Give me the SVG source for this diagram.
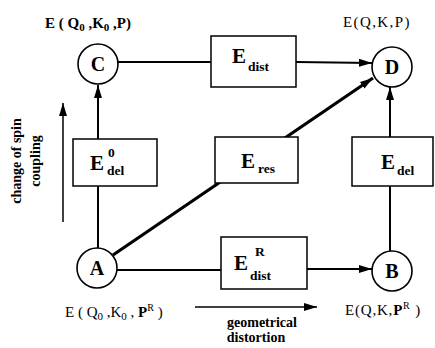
<svg xmlns="http://www.w3.org/2000/svg" width="435" height="348" viewBox="0 0 435 348">
<style>
.ln{stroke:#000;stroke-width:2;fill:none}
.thick{stroke:#000;stroke-width:3.2;fill:none}
.box{fill:#fff;stroke:#000;stroke-width:1.5}
.node{fill:#fff;stroke:#000;stroke-width:1.6}
.nl{font-family:"Liberation Serif","Times New Roman",serif;font-weight:bold;font-size:20px;text-anchor:middle}
.E{font-family:"Liberation Serif","Times New Roman",serif;font-weight:bold;font-size:21px}
.sub{font-family:"Liberation Serif","Times New Roman",serif;font-weight:bold;font-size:13.5px}
.st{font-family:"Liberation Serif","Times New Roman",serif;font-size:15px}
.ax{font-family:"Liberation Serif","Times New Roman",serif;font-weight:bold;font-size:14px;text-anchor:middle}
</style>
<defs>
<marker id="ah" markerUnits="userSpaceOnUse" markerWidth="14" markerHeight="10" refX="13" refY="5" orient="auto">
<path d="M0,1 L13,5 L0,9 Z" fill="#000"/>
</marker>
</defs>
<g id="connectors">
<line class="ln" x1="118" y1="62" x2="211" y2="62"/>
<line class="ln" x1="296" y1="62" x2="372" y2="63" marker-end="url(#ah)"/>
<line class="ln" x1="117" y1="270" x2="221" y2="270"/>
<line class="ln" x1="307" y1="269" x2="372" y2="269" marker-end="url(#ah)"/>
<line class="ln" x1="98" y1="248" x2="98" y2="186"/>
<line class="ln" x1="98" y1="139" x2="98" y2="85" marker-end="url(#ah)"/>
<line class="ln" x1="390" y1="251" x2="390" y2="186"/>
<line class="ln" x1="390" y1="137" x2="390" y2="87" marker-end="url(#ah)"/>
<line class="thick" x1="113" y1="255" x2="373" y2="78" marker-end="url(#ah)"/>
<line stroke="#000" stroke-width="1.5" x1="63" y1="222" x2="63" y2="103" marker-end="url(#ah)"/>
<line stroke="#000" stroke-width="1.5" x1="195" y1="307" x2="317" y2="307" marker-end="url(#ah)"/>
</g>
<g id="box-Edist">
<rect class="box" x="211" y="36" width="85" height="51"/>
<text x="232" y="63" class="E">E</text><text x="248" y="71" class="sub">dist</text>
</g>
<g id="box-ERdist">
<rect class="box" x="221" y="237" width="86" height="52"/>
<text x="234" y="270" class="E">E</text><text x="255" y="256" class="sub">R</text><text x="250" y="280" class="sub">dist</text>
</g>
<g id="box-E0del">
<rect class="box" x="73" y="139" width="84" height="47"/>
<text x="90" y="170" class="E">E</text><text x="108" y="157" class="sub">0</text><text x="107" y="175" class="sub">del</text>
</g>
<g id="box-Eres">
<rect class="box" x="215" y="137" width="83" height="46"/>
<text x="241" y="168" class="E">E</text><text x="258" y="173" class="sub">res</text>
</g>
<g id="box-Edel">
<rect class="box" x="352" y="137" width="81" height="49"/>
<text x="381" y="169" class="E">E</text><text x="397" y="175" class="sub">del</text>
</g>
<g id="node-C">
<circle class="node" cx="98" cy="64" r="20"/>
<text x="98" y="71" class="nl">C</text>
<text x="45" y="28" class="st" font-weight="bold">E ( Q<tspan font-size="11" dy="3">0</tspan><tspan dy="-3"> ,K</tspan><tspan font-size="11" dy="3">0</tspan><tspan dy="-3"> ,P)</tspan></text>
</g>
<g id="node-D">
<circle class="node" cx="392" cy="67" r="20"/>
<text x="392" y="74" class="nl">D</text>
<text x="343" y="27" class="st" letter-spacing="1.4">E(Q,K,P)</text>
</g>
<g id="node-A">
<circle class="node" cx="97" cy="268" r="20"/>
<text x="97" y="275" class="nl">A</text>
<text x="65" y="317" class="st">E ( Q<tspan font-size="11" dy="3">0</tspan><tspan dy="-3"> ,K</tspan><tspan font-size="11" dy="3">0</tspan><tspan dy="-3"> , </tspan><tspan font-weight="bold">P</tspan><tspan font-size="10" dy="-6">R</tspan><tspan dy="6"> )</tspan></text>
</g>
<g id="node-B">
<circle class="node" cx="392" cy="271" r="20"/>
<text x="392" y="278" class="nl">B</text>
<text x="345" y="315" class="st" letter-spacing="0.8">E(Q,K,<tspan font-weight="bold">P</tspan><tspan font-size="10" dy="-6">R</tspan><tspan dy="6"> )</tspan></text>
</g>
<g id="labels">
<text class="ax" transform="translate(21,161) rotate(-90)">change of spin</text>
<text class="ax" transform="translate(40,161) rotate(-90)">coupling</text>
<text class="ax" x="262" y="327">geometrical</text>
<text class="ax" x="256" y="342">distortion</text>
</g>
</svg>
